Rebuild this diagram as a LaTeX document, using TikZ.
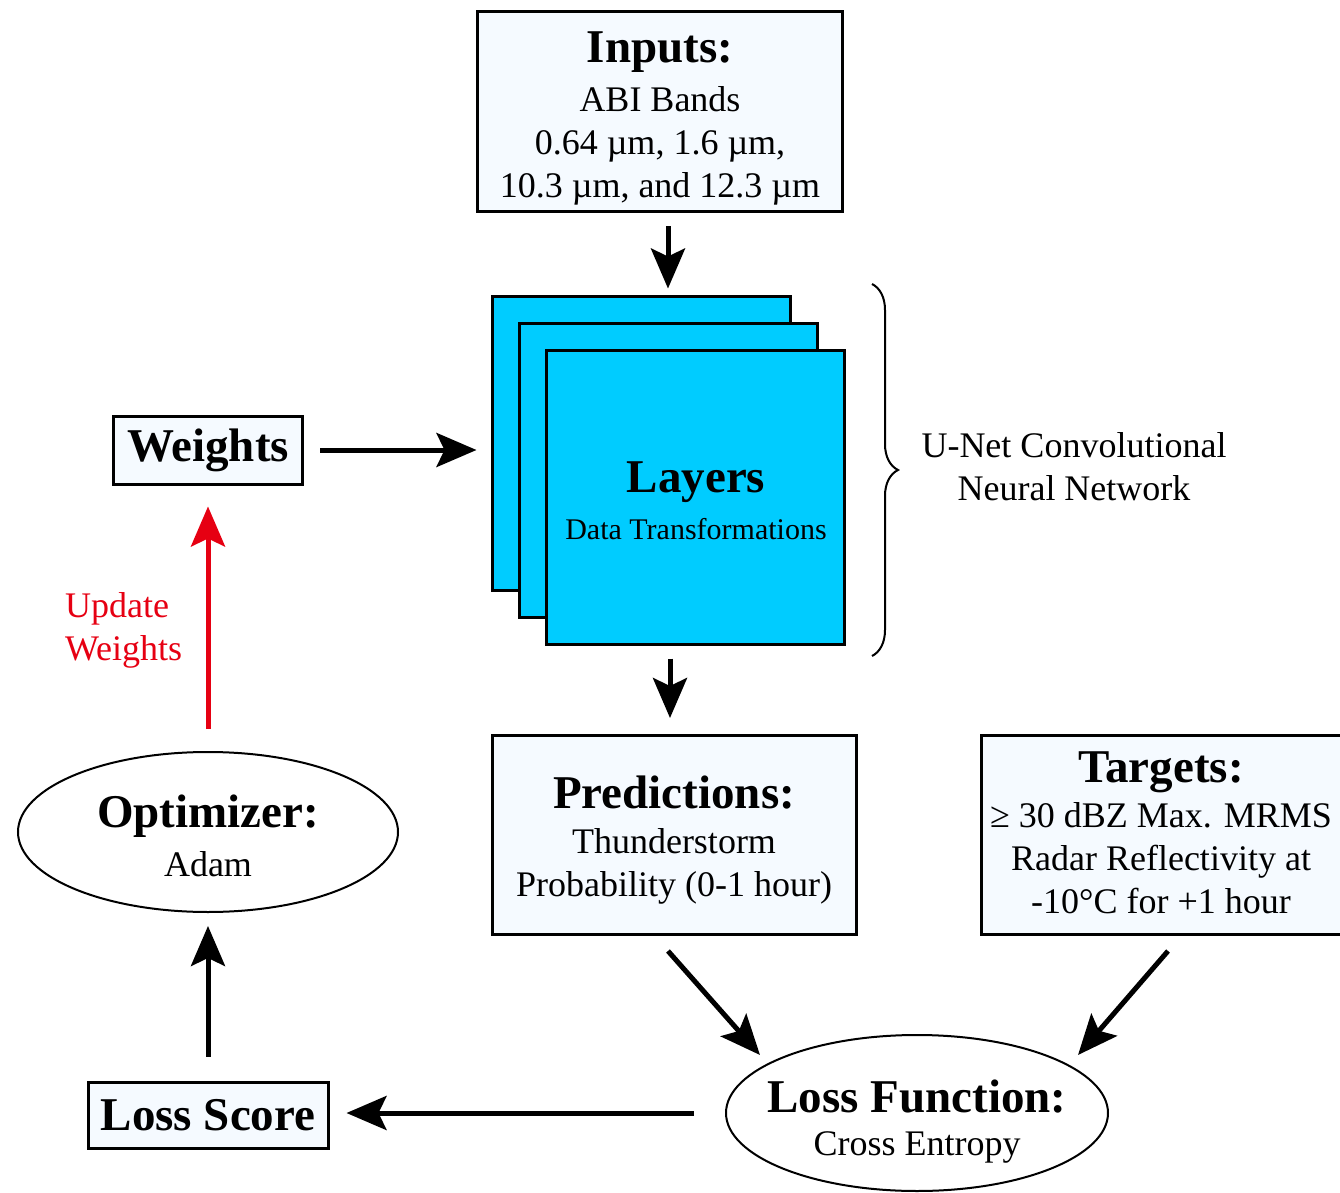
\documentclass[tikz,border=0pt]{standalone}
\usepackage{fontspec}
\setmainfont{Liberation Serif}
\usetikzlibrary{arrows.meta,shapes.geometric,decorations.pathreplacing}
\definecolor{boxfill}{HTML}{F5FAFF}
\definecolor{layercyan}{HTML}{00CCFF}
\definecolor{updred}{RGB}{230,0,18}
\newcommand{\ttl}{\fontsize{23.5}{26}\selectfont\bfseries}
\newcommand{\bdy}{\fontsize{18}{21.5}\selectfont}
\tikzset{
  boxnode/.style={draw=black, line width=1.5pt, fill=boxfill, align=center, inner sep=0pt, font=\bdy},
  layernode/.style={draw=black, line width=1.5pt, fill=layercyan, inner sep=0pt, minimum width=149pt, minimum height=147pt},
  ellnode/.style={ellipse, draw=black, line width=1pt, fill=white, inner sep=0pt},
  txtnode/.style={align=center, inner sep=0pt, font=\bdy},
  arr/.style={line width=2.5pt, -{Stealth[length=20pt, width=17pt, inset=4pt]}},
}
\begin{document}
\begin{tikzpicture}[x=0.5pt, y=-0.5pt]
\useasboundingbox (0,0) rectangle (1340,1193);
% Inputs
\node[boxnode, minimum width=182.5pt, minimum height=100pt] (inputs) at (660,112) {};
\node[txtnode] (inputstxt) at (660,118)
  {{\ttl Inputs:}\\[3pt] ABI Bands\\ 0.64 µm, 1.6 µm,\\ 10.3 µm, and 12.3 µm};
% Layers
\node[layernode] (back) at (641,443) {};
\node[layernode] (mid) at (668,470) {};
\node[layernode] (front) at (695,497) {};
\node[txtnode] (layerstxt) at (696,501)
  {{\ttl Layers}\\[2pt] {\fontsize{15}{18}\selectfont Data Transformations}};
% Brace and label
\draw[line width=1pt, decorate, decoration={brace, amplitude=13pt}] (872,284) -- (872,656);
\node[txtnode] (unet) at (1074,467) {U-Net Convolutional\\ Neural Network};
% Weights
\node[boxnode, minimum width=94.5pt, minimum height=34pt, font=\ttl] (weights) at (208,450) {Weights};
% Predictions
\node[boxnode, minimum width=182pt, minimum height=99.5pt] (pred) at (674,835) {};
\node[txtnode] (predtxt) at (674,840)
  {{\ttl Predictions:}\\[1pt] Thunderstorm\\ Probability (0-1 hour)};
% Targets
\node[boxnode, minimum width=182pt, minimum height=99.5pt] (targets) at (1163,835) {};
\node[txtnode] (targetstxt) at (1161,833)
  {{\ttl Targets:}\\[1pt] ≥ 30 dBZ Max. MRMS\\ Radar Reflectivity at\\ -10°C for +1 hour};
% Loss function
\node[ellnode, minimum width=191pt, minimum height=78pt] (loss) at (917,1113) {};
\node[txtnode] (losstxt) at (917,1122) {{\ttl Loss Function:}\\[0pt] Cross Entropy};
% Loss score
\node[boxnode, minimum width=120pt, minimum height=33pt, font=\ttl] (score) at (208,1115) {Loss Score};
% Optimizer
\node[ellnode, minimum width=190pt, minimum height=80pt] (opt) at (208,832) {};
\node[txtnode] (opttxt) at (208,836) {{\ttl Optimizer:}\\[3pt] Adam};
% Update label
\node[anchor=west, align=left, text=updred, font=\bdy] (upd) at (58,630) {Update\\ Weights};
% Connectors
\draw[arr, shorten <=6.5pt, shorten >=3pt] ([xshift=4pt]inputs.south) -- ([xshift=13.5pt]back.north);
\draw[arr, shorten <=6.5pt, shorten >=8pt] ([xshift=-12.5pt]front.south) -- ([xshift=-2pt]pred.north);
\draw[arr, shorten <=8pt, shorten >=7pt] (weights.east) -- (weights.east -| back.west);
\draw[arr] ([xshift=-3pt, yshift=-7.5pt]pred.south) -- ([xshift=-78.5pt, yshift=29pt]loss.center);
\draw[arr] ([xshift=2.5pt, yshift=-7.5pt]targets.south) -- ([xshift=80.5pt, yshift=29pt]loss.center);
\draw[arr, shorten <=15.5pt, shorten >=8.5pt] (loss.west) -- (loss.west -| score.east);
\draw[arr, shorten <=12pt, shorten >=6.5pt] (score.north) -- (opt.south);
\draw[arr, draw=updred, fill=updred, shorten <=11pt, shorten >=10.5pt] (opt.north) -- (weights.south);
\end{tikzpicture}
\end{document}
